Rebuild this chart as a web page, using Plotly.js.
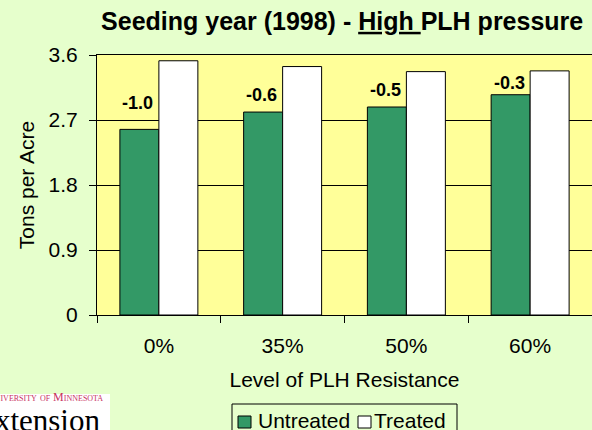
<!DOCTYPE html>
<html>
<head>
<meta charset="utf-8">
<script src="https://cdn.plot.ly/plotly-3.0.1.min.js"></script>
<style>html,body{margin:0;padding:0;background:#E6FFCC;}</style>
</head>
<body>
<div id="chart" style="width:592px;height:430px;"></div>
<script>
// ---- data ----
const categories = ['0%', '35%', '50%', '60%'];
const seriesNames = ['Untreated', 'Treated'];
const untreated = [2.57, 2.81, 2.88, 3.05];
const treated = [3.52, 3.44, 3.37, 3.38];
const diffLabels = ['-1.0', '-0.6', '-0.5', '-0.3'];
const yTickVals = [0, 0.9, 1.8, 2.7, 3.6];
const yTickText = ['0', '0.9', '1.8', '2.7', '3.6'];

// ---- styles ----
const GREEN = '#339966';
const FONT = 'Liberation Sans, Arial, Helvetica, sans-serif';
const SERIF = 'Liberation Serif, Times New Roman, serif';
const labelShift = [26, 17, 17, 12];

const traces = [
  {type: 'bar', name: seriesNames[0], x: categories, y: untreated,
   marker: {color: GREEN, line: {color: '#000', width: 1}}, hoverinfo: 'y'},
  {type: 'bar', name: seriesNames[1], x: categories, y: treated,
   marker: {color: '#FFFFFF', line: {color: '#000', width: 1}}, hoverinfo: 'y'}
];

// paper coordinate helpers (plot: left 97, width 495, top 55, height 260)
const px = v => (v - 97) / 495;
const py = v => (315 - v) / 260;

const annotations = categories.map((c, i) => ({
  x: c, y: untreated[i], xref: 'x', yref: 'y', text: '<b>' + diffLabels[i] + '</b>',
  showarrow: false, xanchor: 'center', yanchor: 'middle', xshift: -21, yshift: labelShift[i],
  font: {family: FONT, size: 18, color: '#000'}
}));

// manual legend texts
annotations.push(
  {x: px(257), y: py(421), xref: 'paper', yref: 'paper', text: seriesNames[0], showarrow: false,
   xanchor: 'left', yanchor: 'middle', borderpad: 0, font: {family: FONT, size: 21, color: '#000'}},
  {x: px(373), y: py(421), xref: 'paper', yref: 'paper', text: seriesNames[1], showarrow: false,
   xanchor: 'left', yanchor: 'middle', borderpad: 0, font: {family: FONT, size: 21, color: '#000'}}
);
// logo texts
annotations.push(
  {x: px(104), y: py(397), xref: 'paper', yref: 'paper', text: 'University of Minnesota', showarrow: false,
   xanchor: 'right', yanchor: 'middle', borderpad: 0,
   font: {family: SERIF, size: 12, color: '#C8325F', variant: 'small-caps'}},
  {x: px(101), y: py(421), xref: 'paper', yref: 'paper', text: 'Extension', showarrow: false,
   xanchor: 'right', yanchor: 'middle', borderpad: 0,
   font: {family: SERIF, size: 31, color: '#000'}}
);

const shapes = [
  // logo background
  {type: 'rect', xref: 'paper', yref: 'paper', x0: px(-5), x1: px(110), y0: py(394), y1: py(440),
   fillcolor: '#FFFFFF', line: {width: 0}, layer: 'below'},
  // legend box
  {type: 'rect', xref: 'paper', yref: 'paper', x0: px(232), x1: px(457), y0: py(404), y1: py(445),
   fillcolor: 'rgba(0,0,0,0)', line: {color: '#000', width: 1}},
  {type: 'rect', xref: 'paper', yref: 'paper', x0: px(238), x1: px(251), y0: py(416), y1: py(428),
   fillcolor: GREEN, line: {color: '#000', width: 1}},
  {type: 'rect', xref: 'paper', yref: 'paper', x0: px(358), x1: px(371), y0: py(416), y1: py(428),
   fillcolor: '#FFFFFF', line: {color: '#000', width: 1}}
];

const layout = {
  width: 592, height: 430,
  paper_bgcolor: '#E6FFCC', plot_bgcolor: '#FFFF99',
  margin: {l: 97, r: 0, t: 55, b: 115, autoexpand: false},
  font: {family: FONT, size: 21, color: '#000'},
  title: {
    text: '<b>Seeding year (1998) - <span style="text-decoration:underline">High </span>PLH pressure</b>',
    font: {family: FONT, size: 25, color: '#000'},
    xref: 'container', x: 0.578, xanchor: 'center',
    yref: 'container', y: 0.951, yanchor: 'middle'
  },
  barmode: 'group', bargap: 0.37, bargroupgap: 0,
  showlegend: false,
  xaxis: {
    type: 'category', showline: true, linecolor: '#000', linewidth: 1, mirror: true,
    ticks: 'outside', tickson: 'boundaries', ticklen: 7, tickcolor: '#000', tickwidth: 1,
    showgrid: false, ticklabelstandoff: 12, fixedrange: true,
    tickfont: {family: FONT, size: 21, color: '#000'},
    title: {text: 'Level of PLH Resistance', standoff: 16, font: {family: FONT, size: 21, color: '#000'}}
  },
  yaxis: {
    range: [0, 3.6], tickvals: yTickVals, ticktext: yTickText,
    showline: true, linecolor: '#000', linewidth: 1,
    ticks: 'outside', ticklen: 7, tickcolor: '#000', tickwidth: 1,
    showgrid: true, gridcolor: '#000', gridwidth: 1, zeroline: false,
    ticklabelstandoff: 7, fixedrange: true,
    tickfont: {family: FONT, size: 21, color: '#000'},
    title: {text: 'Tons per Acre', standoff: 8, font: {family: FONT, size: 21, color: '#000'}}
  },
  annotations: annotations,
  shapes: shapes
};

Plotly.newPlot('chart', traces, layout, {displayModeBar: false, staticPlot: true});
</script>
</body>
</html>
